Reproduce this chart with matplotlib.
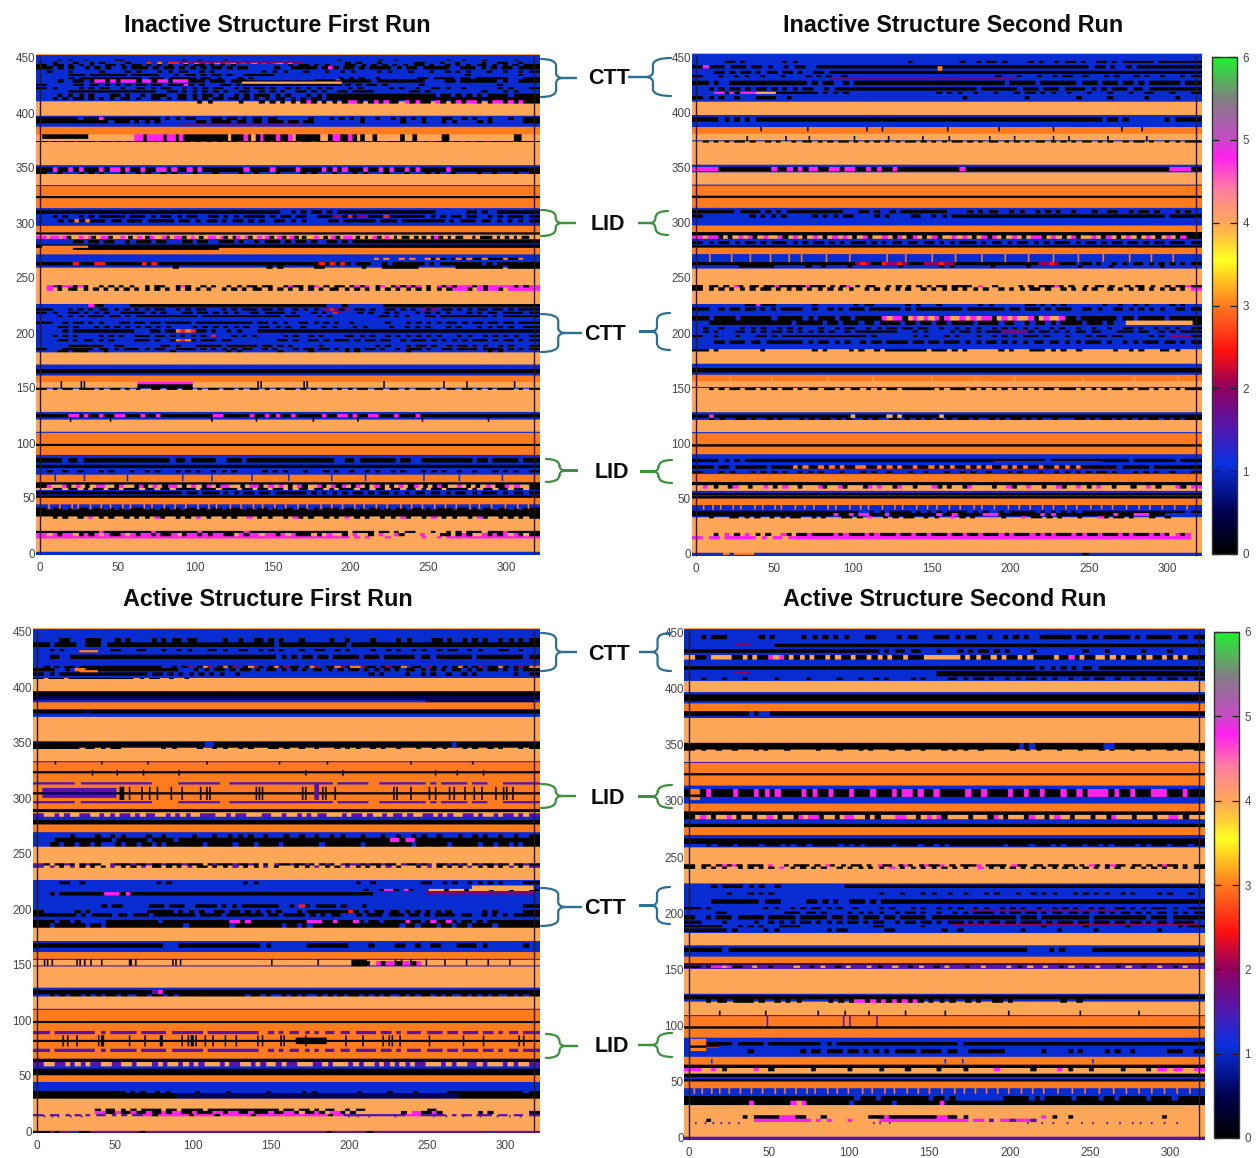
import numpy as np
import matplotlib
matplotlib.use("Agg")
import matplotlib.pyplot as plt
from matplotlib.colors import LinearSegmentedColormap, Normalize
from matplotlib.path import Path
from matplotlib.patches import PathPatch

plt.rcParams['font.family'] = ['Liberation Sans', 'DejaVu Sans']

W, H = 1258, 1158
X_TICKS = [0, 50, 100, 150, 200, 250, 300]
Y_TICKS = [0, 50, 100, 150, 200, 250, 300, 350, 400, 450]
CBAR_TICKS = [0, 1, 2, 3, 4, 5, 6]
TITLES = ["Inactive Structure First Run", "Inactive Structure Second Run",
          "Active Structure First Run", "Active Structure Second Run"]
VALUE_OF = {'K': 0.0, 'N': 0.55, 'B': 1.05, 'P': 1.55, 'V': 2.0, 'R': 2.5, 'O': 3.0,
            'Y': 3.55, 'L': 4.0, 'M': 4.8, 'G': 6.0}
CMAP_VALUES = [0, .5, 1.1, 1.5, 2, 2.45, 3, 3.55, 3.85, 4, 4.4, 4.8, 5, 5.5, 6]
CMAP_COLORS = ['#000000', '#000050', '#0a30e0', '#5018b0', '#900060', '#ff1010', '#ff7a20',
               '#ffff20', '#ffc040', '#ffa858', '#ff7fa0', '#ff20f0', '#c848c8', '#808080', '#20f030']

# ---- panel 1: rows (from, to, value)
P1_BANDS = [(-2,1,'B'),(1,2,'L'),(2,33,'L'),(33,39,'K'),(39,44,'B'),(44,50,'O'),(50,52,'K'),(52,57,'B'),
 (57,62,'L'),(62,64,'K'),(64,71,'O'),(71,89,'B'),(89,97,'O'),(97,99,'K'),(99,109,'O'),(109,110,'B'),
 (110,121,'L'),(121,123,'B'),(123,126,'K'),(126,128,'B'),(128,149,'L'),(149,150,'B'),(150,155,'L'),
 (155,161,'O'),(161,163,'B'),(163,167,'K'),(167,171,'B'),(171,182,'L'),(182,226,'B'),(226,228,'L'),
 (228,259,'L'),(259,271,'B'),(271,277,'O'),(277,280,'K'),(280,285,'B'),(285,289,'L'),(289,291,'K'),
 (291,297,'O'),(297,313,'B'),(313,322,'O'),(322,324,'K'),(324,333,'O'),(333,334,'B'),(334,344,'L'),
 (344,346,'B'),(346,350,'K'),(350,352,'B'),(352,373,'L'),(373,374,'B'),(374,380,'L'),(380,387,'O'),
 (387,397,'B'),(397,410,'L'),(410,452,'B')]
P1_STREAKS = [(424,429,130,195,'K'),(426,428,130,195,'L'),(445,446,90,170,'V'),(376,380,0,30,'K'),
 (388,389,90,170,'V'),(153,155,62,98,'M'),(150,153,62,98,'K'),(277,279,0,30,'O')]
P1_THIN = [
 (40,45,'O',[4,11,19,23,31,38,44,52,57,66,71,79,86,93,101,108,113,122,129,137,143,151,158,166,172,181,188,195,203,209,217,224,233,240,247,255,262,269,278,284,292,301,309,316]),
 (65,72,'B',[8,27,55,91,110,136,160,188,210,248,271,299]),
 (150,156,'K',[12,25,27,140,142,170,172,222,261,276,307]),
 (119,123,'K',[18,44,110,139,176,205,247,290]),
]
P1_TEX = [
 (447,448,"...K.K..K.....KK...........K..K....K.....................K.......K..K.........K..K...K.....K..."),
 (444,446,"..K...K..K.K....K...R.O.RR.O.O.R.O.RO.R.O.R.RO.O..........K.K...K......KK...K..K....K..KK..K.."),
 (442,444,"K.KK.K.K.K..KK.K.KK.K.K.K..K.KK.K.K.K..........K.KK.K.K...KK.K.K.K.K.K.KK.K..K.K.K.KK.K.K.K.KK"),
 (439,442,"KK.K.K..K.K.K..K.KKK.K.KK.K.K.K.KK.K.KK.....K..KKKKK.KMK.KK.K.KKKK.K.KK.KKKKK..KKK.K.K.KK.KKK"),
 (436,438,".K...K.....K....K.K...K.K.KK..K.K.........K.K.K...K...K..K.K....K.K...K...K..K.K.K...K..K..K.K"),
 (433,435,".....KKK.KKKKKKK.KKKKK...K.KK.K.KK.K..KKKKKK....................................K.........K.."),
 (430,432,".....K.KKKKKKKKKKKK.KKK.KKKKK.KK.K...K.K................K.K.K..K.......KK.KKKK.KK.KKKKKK...KK"),
 (427,430,"...K..KK.KMMKMKMMMKMMKMMKMMMKKK.KKK.KKK.............KKKKMKKKKKK.KKKKKKKKK....KK.KKKKKKK.K..KKK"),
 (424,426,"K.....KK.KK.K.K.K.KK.KK.KKKMK.K...KK.K.K.......KK.KK.K.KK.K.K.KK.K......K..............K......"),
 (421,423,"K.K....K.K.KK..K..KK.K.KK..K.K.K.KK..K.K.KK.K..K.K.K.K.K...K.K.....K.K..K..KK.K..K......K.K...K"),
 (418,420,".....KKKKKKKKKKKKKKKKK..KK.K.K.K.K.K..KK..K.K.K..KK.K.K..KK.KKKK.......KK.K..........K...K.K..."),
 (414,417,"...K.K.K.K...KK.K..K.KKK..KK.K.KK.K..K.K.KKK.K.K...K.K.KKKKKKKKKKKKKKKKKKKKK.KK.K.K.K.KKKK.KKKK"),
 (411,414,"..K.K.KK.K.K.K.KK.K..KK.K.KK.K.K.KK.KK.K.K.K.KK.K.K.KK.KKKKKKKKKKKKKKKKKKKKKKKKKKKKKKKKKKKKKKKK"),
 (408,411,"..............................K.K.....K...K.K.K.K.KMK.K.K.KMMK.KMKMKK.MKMKK.MK.KMKMMK.KMMKMKMKK"),
 (393,396,"KKKKKKK.KKKMKKKKKKKKKKK.K.K.KK...KK.KK.K.KK.KK......K...K.K.K.K..K..K.K.K.K...KK..K.K..K...K..KK"),
 (390,393,"KKKKKKKKKKKKK.KKK.K.K.K.......KK.KKKK.KK.KK.KKK.KK.KK.........K.......K...K...K.K....K.K......KK"),
 (374,380,".......................MMKMMMMKMMKMKKKKKKKKKKKLKKKMKLKMKKKMKKMLKKKKKKLLKMMKKMKLKLLKLLLLLLKLLKLLLLLLKKLLLLLLLLLLLLLLLLKKLLL"),
 (373,374,"K.K.KK.KKK.KK.K.K.KK.K.K.KKK.K.K.K.KK.K.K.K.K.KK.KK.KK.K.KKK.K.K.KKK.KK.K.KKK.K.K.KK.KKKK.KKK"),
 (346,350,"KKMKKMKMKKKMKMMKMKKMKKMMKMKKMKMKKKKKKKKMKKKKMKKKKMKKKKMKMKMKKKMKKMKMKKMKMKKKKKMKKKKKKKKKKKKKKKK"),
 (344,346,"K..K...K.K.K...K..K.K..K.K...K...K....K..K...K....K.K...K...K.K...K...K...K.K..K....K..K...K..K"),
 (308,311,"KKKKKKKKKKKKKKKKKKKKKKKKKKKKKKKKKKKKKKKKKKKKKK..K.K.KK.K.KKKKKKKKKKKKKKKKKKK......KK.K..KKKKKKK"),
 (304,307,"..K.K..K.K.KKKKK.KKK.K.KK.K.KK..KK.K.K.KKKK.K.KK.KK..KKKVVKRKVVKKKRKKKKKKK.K.K.KK.KK..K.K.KKK.K"),
 (300,303,"...K.KOKOKKK.KK.KKK.KKKKK.KK.K.KK.K.KK.K.K..KK.K.K....KK.KKKKKK.KKK.KKKKKKKK.K.KKK.KK.K.K.K.K"),
 (285,288,"MLMMLMKLLMLMKLMMKLLMLKLMLKMLLMKLMMKLMLKLMMLMKLKMLMKLMLMKLMKLMKLKLLMLKLMKLMMLKLKLMKLMLKLKKLKLKLKMKLKLKKLLKLKKKLKLKLKLKKL"),
 (281,284,"......KK.KK.KK..K.KKK.KK...KK.KK..KKK.K..K.KKK.K.KK.K..KK.K.KKKKKKKKKKKKKKKKKKKKKKKKKKKKKKKKKKK"),
 (275,277,"......KKKKKKKKKKKKKKKKKKKKKKKKKKKKK.............................................................."),
 (266,268,"................................................................O.O..O.O..OKOK.KOKOKKOKKKOKKO.."),
 (261,264,"KKKKKKRKKKRRKKKKKKKRKRKKKKKKKKKKKKKKKKKKKKKKKKKKKKKKKRKRKRK.KKK..K.KKKKKK.K.KKKKKKKK.K.KKKKKKK"),
 (258,261,".........................K.................K.K......KK.......K...KKKKKKK.......KKKKKKKKK.KKKKK"),
 (241,243,".MPKMMKMK.LKLKLKLKLLKLKKLLKMKLLKLKLLKLKLKKLKKLLKMKKLKMLKLKKLKMKMLKMLKMKMKMLKLMKMKMMMKMKMMMMMKMKM"),
 (238,241,".M.K.KK.K.K.K.K.K.K.K.K.K.K.K.K.K..K.K.K.KK.K.K.K.K.K.K.KK.K.K.K.K.K.K.K.K.K.K.KMMMK.MKMMK.MMMMM"),
 (223,226,".........MKK.....KKKKKKKKKKKKKKKKKKKKKKKKKKKKKKKKKKKKKK...K.......KKKKKKKKKKKKKKKKKKKKKKKKKKKKK"),
 (220,222,"KK...K.K.K.KK.K.K.K.K.KK..K.K.KK...K.K.KKK.KK.K..K.K.K.VRVKV.KK.K..KK.K.K.VKV.KK.K.K.KK.KK.K.KKK"),
 (217,219,"K.K..KK.K.K.K..KKKKK.K.K...KK.KK.K.K.K..KK.KKKK.K...K.K.RV...K.K..K.K...K.K.K.K...K.K.KK.KKKK.K"),
 (214,216,"...K.K.K.KKK.KK.K.KKKKKKKKKKKK.KKKKKKKKKKKKKKK.KKK...K.K.........KK.K.K...KK.KKKKKKKKK.K.KKKKKK"),
 (208,210,"KK..K.KK.K.K...KK.KK.KK.KKKKK.KKKKKKKKKKK.KK.K.K..KK.K.K.K..K......K...K.K.K.K.KK.K.KK.KK.KK.KKK"),
 (204,206,"...KK.K...K.K.K.K.K.K.K.K....K.K.K.K.K.K..KK.K.K..K...K.K...K.K....K..K.K.K...K.K...K.K.K.K..KK"),
 (200,203,"....K.KKKKKKKKKKKK...KK.KKORORKK.K..K.K...KKKKKKKKKKKKKKKKKKKKKKKKKKKKKKKKKKKKKKKKKKKKKKKKKKKKKK"),
 (196,198,"..K.K.K....K.K.K..KKK.KK.K.K.K.K.R...K.K.K.....K.K..K.K....KK.K.K..K.K.K.K.K.K...K.K..K.K.K.K..K"),
 (192,194,"...KK.K.KK.K.K....KKK.K..KOROK.KKK.KK.........KK.K..KK.K.KKK.K.KK.KK..K.KKK.K.K.K.K.KKK.K.KK.K.K"),
 (187,189,".....KKKKKKK..KK.......KK.K...KKKKK.KKKKKK.KK.K.K.....K..........K.K...K.KK.K..K.KK.K.K..K.K...K"),
 (184,186,"K...KKKKKK.KK.K.KKK.K.KK..KKKK.K.K.K.K.KK..K.K...K.KK.KK.K.K.K.KK.K..K.KKK.K..KK.KKKK.KKKK.K.K.K"),
 (182,184,"...KK.KKK...K............K..........K.K.......K.....K......K.K.........K...............K.K......"),
 (148,150,"K.K.KK.KKK.K.KK.K.K..KK.KK.KK.K.KK.KK.K.KK.K.K.KK.K.K.KK.K.K.KK.KK.KK.K.KKK.K.KK.KK.K.K.KKK.K.K"),
 (123,126,"KKKKKMMKMKKMKKMMKKKMKKMKKKKKKKKKKMMKKKKKMKKMKMKKMKKKKKMKKMMKMKKMMKKKMKKKMKKKKKKKKKKKKKKKKKKKKKK"),
 (82,86,"KKKK.KK.KKKKKKKKKKKKKKKKK.KK.KKKKK..KKK.KKKKKKKKKKKKKKKKK..KK.KKKKKKK.KK..KKKKKKKKKK.KK.KKKKK.KK"),
 (77,80,"KKKKKKKKKKKKKKKKKKKKKKKKKKKKKKKKKKKKKKKKKKKKKKKKKKKKKKKKKKKKKKKKKKKKKKKKKKKKKKKKKKKKKKKKKKKKKKKKK"),
 (73,75,".K..K..K...K.K...K..K.K...K.K.K..K.K.K.....K.K.K...K...K.K..K..K.K..K.K...K.K.K..K..K...K.K.K..K"),
 (59,62,"KMLLMKLMLKLMMLLKMLLKMKLMLKMMLKLMLKMLKMMLLKLMMKLMLMLKLMKLLMKLMKMLKMLKLMKLKLMLKMLKLKMKLLMLKLKLMLKKMLMLLK"),
 (57,59,"..KK.KK.K.KK.KK.KKK.KK.KK.KKKK.KKK.KKK.KK.KK.KK.K.KK.KK.K.KKK.KK.KK.KK.KK.K.KK.KKKK.K.KK.KK.KK.K"),
 (53,56,"KKKKKKKKKKKKKKKKKKKKKKKKKKK.KK.KKK.K.K.KK.KK.KKKKKK.K.K.K.K.KK.K.KK.K.K.KK.KK.K.KK.K.KKK.K.KK.K"),
 (39,41,"K.KK.K.KK.KK.K.K.KKK.K.KK.K.KK.K.KK.KKK.K.KK.K.KK.KK.K.KKK.KK.K.KK.K.KK.KK.K.KKK.KK.K.KK.KK.K.KK"),
 (31,33,"..K.K..K.M.K.K..K.K.K.MK..K.K.M.K..K.K..M.K.K..K.MK.K..K.K.M.K.K..K.K.MK..K.M.K.K..K.MK..K.K.K.K"),
 (18,20,"KKKKKKKKKKKMKKKKKKKKKMKKKKKKKKMKKKKKKKKMKKKKKKKKKKKKKKKKKKK.KKKK.KK.K.KKL..K..KLK.KKK.KKKMKKKKK"),
 (15,18,"MLMKMMLKMKMLMKKMLMKMMKMKKMLKMMKMKMMKKLMKMMLMMKMLMKKKLKLMLLK.MLLKLMLLMKLLLMLLLKKLKMKLLMKMKMLMKLK"),
 (13,15,"MMMMMMMMMMMMMMMMMMMMMMMMMMMMMMMMMMMMMMMMMMMMMMMMMMMMMMMMMMMM.M.M...M..L...M..M.MMMMMMMMMMMMMMMMM"),
]
# ---- panel 2
P2_BANDS = [(-2,1,'B'),(1,2,'L'),(2,33,'L'),(33,39,'B'),(39,44,'B'),(44,50,'O'),(50,52,'K'),(52,53,'B'),
 (53,55,'K'),(55,57,'B'),(57,62,'L'),(62,65,'K'),(65,72,'O'),(72,90,'B'),(90,97,'O'),(97,99,'K'),
 (99,109,'O'),(109,110,'B'),(110,121,'L'),(121,123,'B'),(123,126,'K'),(126,128,'B'),(128,150,'L'),
 (150,151,'B'),(151,156,'L'),(156,162,'O'),(162,164,'B'),(164,168,'K'),(168,172,'B'),(172,185,'L'),
 (185,226,'B'),(226,258,'L'),(258,271,'B'),(271,277,'O'),(277,279,'K'),(279,285,'B'),(285,288,'L'),
 (288,291,'K'),(291,297,'O'),(297,313,'B'),(313,322,'O'),(322,324,'K'),(324,333,'O'),(333,334,'B'),
 (334,345,'L'),(345,347,'B'),(347,350,'K'),(350,352,'B'),(352,373,'L'),(373,374,'B'),(374,380,'L'),
 (380,386,'O'),(386,397,'B'),(397,409,'L'),(409,452,'B')]
P2_STREAKS = [(429,430,85,205,'V'),(414,415,100,220,'V'),(207,211,275,318,'L'),(437,441,154,157,'O'),
 (76,77,75,270,'V'),(83,84,190,260,'V')]
P2_THIN = [
 (40,45,'O',[3,9,14,22,27,36,41,49,53,62,68,74,83,88,97,104,109,118,126,131,140,147,153,161,168,177,182,190,199,206,213,221,228,236,243,252,259,266,275,283,290,298,306,314]),
 (264,272,'O',[7,21,33,46,58,66,82,97,121,133,150,165,182,197,212,228,244,260,277,291,305]),
 (382,386,'K',[40,70,108,118,160,193,228,272,285]),
 (373,378,'K',[31,56,71,100,122,144,161,187,203,228,238,263,288]),
 (155,160,'L',[20,47,83,112,150,178,203,247,280,308]),
]
P2_TEX = [
 (444,446,".....KK.K.......K.K.....................K.........K..K.KK.K....K.K..K.KK.K..KK.K.KKKKKK.KKKKKKK"),
 (439,442,"KMKKK.KKK.KK.K..K.KK..KKKKKKKKKKKKKKKKKKKKKKKKKKKKKKKKKKKKKKKKKKKKKKKKKKK.KK.K..K.KKKKKKKKKKK"),
 (434,437,"...KK.K.KK.K.KK.KK.K..KK.KKKKKKKKKKKKKKKKKKKKKKKKKKKKKKKKKKKKKKKKKKKKKKKKKKKKKKKKKKKKKKKKKKKKKK"),
 (431,433,"K...K..K.K..K...K....K.K.K..K.............................K...K...K..K.KK..K...K.K...K.K..K...K.K"),
 (424,428,"KK.K..KKKKKKKKKKKKKKK.K.KK..K.KKKKKKKKKKKKKKKKKKKKKKKKKKKKK.KKKKK.KKKKKKK.KKK.KKK.KK.K.KKKKKK.KK"),
 (419,422,"..K.K.KK.K.KK.K.K.K.KK..K.KKKKKKKKKKKKKKKKKKKKKKKKKKK.KKKKKKK.KKK.KKK.KKKK.K.K.KKK.KK.KKKKKKKKK"),
 (416,418,"...MMKMKMMMLLLLKKKKKKKK.K.K.K.................K.K.K..K...K...K.KK.K.K..K...K...K...K..KK...K...K"),
 (411,414,"K.K.K..K...KKKK..K.................................K...........K.........K.....K......K.....K..."),
 (391,395,"KKKK.K.K.K.KKKKKKKKKKKKKKKKKKKKKKKKKKKKKKKKKKKKKKKKKKKKKKKKKKKKKKKKKKKKKKKKKKK.KK.K.......K.KKKK"),
 (372,374,".K.K.K.KK.K..K.K..K.KK.K.K.KK.K.K.K.K.K.KK.K.K.K.KK.K.K.KK.K.K.K.KK.K.K.K.KK.K.K..K.KK.K..K.K.KK"),
 (346,350,"MMMMKKKKKKKKKKMKKMKMKMMKKMMKMMKKMKMKKMKKKKKKKKKKKKMKKKKKKKKKKKKKKKKKKKKKKKKKKKKKKKKKKKKKKKMMMMK"),
 (308,311,"KKKKKKK.KKKK.K.K.KKKKKKKKKKK...KK.K..K.KKKKKKKKK....K.K.KK..K.K..K.K.K..K...K..KK..K.KK.K...K.K."),
 (304,307,"K.........K.K.K.K.....K.K.K.KK....K.K....KK..K.K.KKKKKKKKKKKKKKKKKKKKKKKKKKKKKKKKKKKKKKKKK.KKKKK"),
 (285,288,"MLMMKLKLMLMKLMLLMKLMLKLMLKLMLMLKLMKLLMLKMLKMLKLMKLLMLMLKLMKMLKLMLKLMMKLMLKLMKLLMLKMLKLMLKLMLKLMLKMKK"),
 (280,283,"K.K.KK.K.KK.K.KKK.K.K.KK.K.K.KKK.K.K.KK.KK.KK.K.K.KKK.K.KK.K.KK.K.K.KKK.K.KK.K.KK.KK.K.KK.KKK.K"),
 (261,264,"KKKKKKKKKKKKKKKKKKKKKKKKKKKKKKVRVKKRVVRVKKKVVVRVVKKKKKKKKKKKKKKKKVVRVKKK.KK.K..K.K.KK.K.K.K.K.K"),
 (259,261,"........KKKKKKK......K..K....K.........K.......K.K.......K......K.........K.....K.........K......"),
 (241,243,"KLKKLKLMKLKKLKKMKKKKKMKKKLKLKMLKLKKLLKLKLKLKLKLKKLKKKKLMLLKLLLLKLKLKKKMKLKLLKLKKLKLLKLKKLKLLKLKKMK"),
 (238,241,"K.K.K.K.K.K.KK.K.K.K.K.K.K.K.K..K.K.K.K.K..K.K.K.K.K.K.K..K.K.K.KK.K..K.K.K.K..K.K.K.K.K.K.K.K.M"),
 (224,226,".........KKMKKK.......K.......K.KK......K.K...K.......K.K......KK.K.K.K.......K..K..K.K....K.K.."),
 (220,223,"KK..K.KK.KK.K.K.KKKK..K..K.K.KKK.KKKKKK.K.KKKKKKKKK.KKKKKKK.KK.KKK.K.KKK..KK.K..KK.K.K.K.K..KK.K"),
 (211,215,"KK.KKKK.KKKKKK.KKKKK.K.KKK.KK.KKKKKMLMMKLMLMLMKMLLMLMLMMKLMLMLLMKLMLLMKK.KKKKKKK.KK.KKKKK.KKKKK"),
 (207,211,"..KKKKKKKKKKKKKKKK.KKKKK.KK.KKK.KK.KKKK.KK.KK.KK.KKKK.KKKK.KK..K.KK.K.KKKK.KKK.K..............KK"),
 (203,205,".K..K...K.K.K..K.K.K...K..K.KK..K.K.KK.KK.KK..K..K.K.K..K.K.K.K.K..K.K..K..K..K..KK.K..K.K.K..K"),
 (200,202,".K.K...KK.K.K.KK.K.K.K.K.K..K.KKKKKKKK...K.K....K.KK.K.KKKVVVVVK.KK.K.K.KK.KK...KKK.KK..K.K.KKK"),
 (196,198,"K..K...K...KK.K.KKKKKKKKKKKKKKKK.K.......K.K...K.K...K..K.K.K.KKK.K...K...K.KK.KK.....K.K.VVVVK"),
 (190,193,"...KK.KKK.KK.KKKKKKK.K.KK.K.K..K.KK.KKKK.KK.KK.KKK.K.K.KK.K.K.K.KK.KK.K.K.KKK.K..K.K.KKK.KK.K.K"),
 (183,185,"KK.K........K.........K.K....K.K..K.KKKKKKKK.KKK.K.K......K.K...KKK.K.K..K......K..K.K...KK.K..."),
 (148,150,"..K.K.KK.KK.K.K.KK.K.KK.KK.K.KK.K.K.KK.KKKKKK.K.KKK.K.K.K.K.K.K.K.KK.KKK.K.K.K.KK.K.KK.K.K.K.KK"),
 (123,126,"KKMKKKKKKKKKKKKKKKKKKKKKKKKKKLKKKKKKLKLKKKKKKKLKKKKKKKKKKKKKKKKKKKKKKKKKKKKKKKKKKKKKKKKKKKKKKKK"),
 (121,123,"..K.K..KK.K..K.K...K.K.KK.K.K..K.K..KK.K.K.K.K.K.KK.K..K.K.KK.K.K..K...KK.K.KK.K.K.K.KK.K.K.KK"),
 (83,86,"KKKK.K.K.KKKKKKKKKKKKKKKKKKKKKKKKKKKKKKKKKKKKKKKKKKKKKKKKKKKKKKKKKK.KKKKKKKKKKKKKKK.KKKKKKKK.KKK"),
 (77,80,"KKK.KK.KKKKKK.KKKKOKOKKOKOKOKKOOKKOKOKOKKOKKOKOKOKKOKOKOKKOKOKOKKOKKOKOKOKKKKKKK.KKKKK.KKKKKKKK"),
 (73,75,"K...K.K...K.K.K.K..K.K.K...K...K.K..K...K..K...K..K.K..K...K.K...K..K.K.K.K.KK.K...K.K.K..K...K"),
 (59,62,"LMLKLLKMLLKLLMLKLMLLKLLLMKLLMKLLLKMLMLLKMLLKLLLMKLKLLKMLLLLKLLMKLLMLLKLLMKLLMLKLMLLKLLLKLLMLKLLLMKLM"),
 (37,39,"KKKKKKKKKKKKKKKKKKKKKKKKKKKKKKK..K.K.KKKK.K.K.K.KKKK.K.K..K.KKKKK.K.K.K.K.KKKKKKKKKKKKKKKKKKKK.K"),
 (34,37,"KKKKKKKKKKKKKKKKKKKKKKKKKKMKKMKMMKKKMKKKKKKKKKMKKMKKKKKMMMKKKKKKKKMKMKKKKKKKKKKKMKKKMMMKKK......"),
 (32,34,"..K...KK.K.K..K.K.KK..K.K...KK.K.M..K.K.KK..K.K..M.K.K.....K...M.KK.K.K...K...MK.KK.K...K..K....."),
 (16,19,"...K.M.K.M.K.K..MK.KKMKKKKMKMKKKMKMKKKMKKMKKMKKKMKKMKKMKKKMKMKKKMKMKMKKKMKMKKMKKKMKMKKKMKMK.MKM."),
 (13,16,"M.MM.MMMMMM.M.MM.MMMMMMMMMMMMMMMMMMMMMMMMMMMMMMMMMMMMMMMMMMMMMMMMMMMMMMMMMMMMMMMMMMMMMMMMMMMM."),
 (-1,1,".B...O.OOOO.......B........................................................K....................."),
]
# ---- panel 3
P3_BANDS = [(-2,0,'P'),(0,2,'L'),(2,29,'L'),(29,34,'K'),(34,44,'B'),(44,50,'O'),(50,56,'K'),(56,58,'B'),
 (58,62,'L'),(62,65,'K'),(65,80,'O'),(80,82,'K'),(82,97,'O'),(97,99,'K'),(99,109,'O'),(109,110,'P'),
 (110,121,'L'),(121,123,'B'),(123,127,'K'),(127,129,'B'),(129,148,'L'),(148,149,'P'),(149,154,'L'),
 (154,155,'P'),(155,161,'O'),(161,171,'B'),(171,183,'L'),(183,226,'B'),(226,256,'L'),(256,269,'B'),
 (269,276,'O'),(276,280,'K'),(280,283,'B'),(283,287,'L'),(287,290,'K'),(290,303,'O'),(303,305,'K'),
 (305,322,'O'),(322,324,'K'),(324,332,'O'),(332,333,'P'),(333,345,'L'),(345,351,'B'),(351,373,'L'),
 (373,376,'B'),(376,379,'K'),(379,380,'B'),(380,386,'O'),(386,388,'B'),(388,392,'N'),(392,396,'K'),
 (396,408,'L'),(408,452,'B')]
P3_STREAKS = [(300,309,2,50,'P'),(303,305,2,50,'N'),(78,84,166,186,'K'),(148,154,202,212,'K'),(386,392,250,320,'N'),
 (431,433,26,38,'O'),(413,415,26,38,'O'),(213,215,250,320,'V'),(217,221,280,320,'L')]
P3_THIN = [
 (76,86,'K',[15,18,24,38,40,41,58,68,78,79,92,96,98,99,101,107,112,120,127,141,144,156,158,172,198,209,222,226,228,233,252,274,287,310,313]),
 (298,310,'K',[52,53,54,58,66,71,76,85,92,104,108,110,140,142,144,170,172,180,183,185,191,229,231,240,252,256,265,268,275,281,286,295,300,302,306]),
 (298,312,'P',[178,179,180]),
 (149,155,'K',[3,5,8,24,26,29,33,40,58,59,62,86,88,91,150,180,230,234,240,250,262,276,290,304]),
 (12,14,'P',[3,8,12,20,27,200,206,213,230,255,263,274,285,296,304,311]),
 (44,47,'O',[8,30,60,104,150,211,248,277]),
 (320,325,'K',[34,50,67,90,172,196,256,270,287]),
 (330,333,'K',[10,40,70,108,155,186,240,280]),
]
P3_TEX = [
 (440,444,"....KK...KKK...K.K....K.K.KK.KK.....K..K..KK.K.K...K.....K..K....K....K.K....KK.K..K.K.K..K.K.K.K"),
 (436,440,"KK.KKKK..KKK.KKKKKKKKKKKKKKKKKKKKKKKKKKKKKKKK.KKKKKKKKKKKKK.KKKKKKKKKKKKKKKKKKKKKKKKKKKKKKKKKKK"),
 (432,434,"..K.K.........KK...KK...K..K.K...KK.K..KK..K.K.K...K..KK..K.K....K..K.K..K.K..K.KK..K.K...KK..K.."),
 (425,429,"..KK..KKKKKKKKKKKKKKKKKKKKKKKKKKKKKKKKKKKKKKKK.K.K.KK.KK.KKKKK.KKK.KKKKKK.KK.KKKKKKK.KKKKKKKKK.K"),
 (417,419,".K.K.KK.KKKKKKKKKKKKKKKK..K.KV.KOV.KOKV.KOVK.KOKVKK.KOV.KKOVKOOVKK.KVKKO.KK.VK.K.KOK.KV.KKOK.KVKO"),
 (414,417,"KKK..K.OOKKKKKKKKKKKKKKKKKK...K.K.KK.K.KK.K.KK.K.K.K.KK.K.K.KK.K.K.K.K.KK.K.K.K.KK.K.K.KK.K.K.KK"),
 (410,413,"K.K.KKKKKKKKKKKKKKKKK.KK.K.K.K.K.K.K..K.........................K.K....K..K.K..K..K.K.......K..K"),
 (407,408,"K.KKK.KKKKKKKKKKKKK.K.KK..K..K....................................................................."),
 (376,379,"..KKKKKKKNKKKKKKKKKKKKKKKKKKKKKKKKKKKKKKKKKKKKKKKKKKKKKKKKKKKKKKKKKKKKKKKKKKKKKKKKKKKKKKKKKKKKKKK"),
 (346,350,"KKKKKKKKKKKKKKKKKKKKKKKKKKKKKKKK..KKKKKKKKKKKKKKKKKKKKKKKKKKKKKKKKKKKKKKKKKKKKKK.KKKKKKKKKKKKKKK"),
 (344,346,"KKKKKKKK.KK.K.KK........K.K....K..K.K..K.K...KK.K..K..K...K.K.K..K.K..K...K..K.K...K.K..K.K...K.K"),
 (312,314,"PPPPPPP.PPPPPPPPPPPPPP.....PPPPPPPP..PPPPPPPPPPPPPPPPPPPP.PPPPPP..PPPPPPPPP.P.PPPPP.PPP...PPPPPP"),
 (295,297,"PPPPPPP.PPPPPPPPPPPPPP.....PPPPPPPP..PPPPPPPPPPPPPPPPPPPP.PPPPPP..PPPPPPPPP.P.PPPPP.PPP...PPPPPP"),
 (283,286,"PLLPLPLLPPLLPLPLPPLPLPPLLPLPLPLLPPPLLPLPPLLLPPLLPLLPLPLPPLLLPLPPLPLLPLPPLPLLPPLPLPLLPPLPLLPLPPLPLP"),
 (264,267,"......K....K..K.K....K..K.....K...K..K.K.K..K...K..K..K..K.K...K...K..K..K.K..K...K..K.K..K..K..K"),
 (260,264,"...KKKKKKKKKKK.KKKKKK.KKKK.KKKKKKKKKKKKKKKKKKKKKKKKKKKKKKKKKKKKKKKKKMMKMMKKKKKKKKKKKKKKKKKKKKKKK"),
 (256,260,"..KK.KK.KK.K...K.KK.KK.K.KKKKKKK.KKKKK.KKK.KKKK.KKKKKKK.KKKKKKK.KKKKKKKKK.KKKKKK.KKKKK.KK.KK.K.KK"),
 (239,241,"PKLKKPKLKPKKLLPKKKPKKPKKPKKKPKKKLKPKKKPKKPKLKLPKKPKKPKLKPKLPKPPKPKKPKKLPKKPKPLKKPKPKLKPKKPKKLKKPK"),
 (237,239,"P.P.K.P.K.K.K.P.K.K.P.KK.K.K.P.KK.K.K.P.K.K.P.K.L.K.K.P.K.K.P.K.K.K.P.K.L.K.P.K.K.K.P.K.K.K.P.K.P"),
 (222,225,"....KK..K..............K.K..............K.K...................K..K.........KK..K.K..K.K.K.K....KK"),
 (216,218,".................................................................K..KMMK.MK...LLLKLLLKLLLLKLLLKLLLK"),
 (212,215,"..K.KKKKKKKKKMMMKMKKKKKKKKKKKKKKKKKKKKKKKKKKKKKKKKKKKKKKKKKKKKKKKK................................"),
 (201,204,"............K.KK.....KKK.KKK..KKKK.K.K.KKKKKKK..K.RK.KKKK.K...K..............................KK"),
 (196,199,"K......K.K...........KKKKK.K.K.K..KK.KK.K.K.K.K...K.KKKKKKKKRK.K.KK.KK.K.K.K.K.K......K.K.....KK"),
 (193,196,"KKKKKKK.K.KKKK.KK.KKK.KKKKKKKK.KKKK.KKKKKKK.KK.KKKK.K.K.KK...K.KKK.KKK.KK.K.KKKK.KK..K.K.K.KKKK"),
 (187,190,"KKK.KK.K.....KKKKKKKKKK.KKKKKKKKKKKKKMMKMKKKKKKKKKKKMMMKKMKKKMK.KK.KKKKMKK.KMKKMK.KK.K.KKKKKKKKK"),
 (183,187,"KK.KKKKKK.KK.KKKKKKKKKKKKKKK.KKKKKKKK.KKKKKKKKK.KK.K.KKKKKKKKKKKKKKKKK.KK.KKK.KK.KK.KKKK.KKKKKKK"),
 (165,169,"KKKKKKKKKKKKKKKKKKKKKKKK...KKKKKKKKKKKKKKKK.K.......KKKKKKKK....K....KK..K..KK...KKKK.K.......K."),
 (149,153,"................................................................K.MKMMKMMKM......................"),
 (123,127,"KKKKKKKKKKKKKKKKKKKKKKPMKKKKKKKKKKKKKKKKKKKKKKKKKKKKKKKKKKKKKKKKKKKKKKKKKKKKKKKKKKKKKKKKKKKKKKKK"),
 (121,123,"..K.K.KK.K.K.KK.K..KK.KK.K.KKKKKKKKKKKKK.KK.K..K.K.K..K.K.K.KK.K.K.K..K.K.KK.K.K..K.K.K.K..K.K.K"),
 (87,90,"PP.PPPPPPPP.P.PPPPP.PPPPP.PPPPPP.PPPPPPPPPP..P.P.PP.P.P.PP.PP.PPPP.PP.P.PPP.PPP.PP.PPP.PP.P.PP.PP"),
 (71,74,"PP.PPPPPPPP.P.PPPPP.PPPPP.PPPPPP.PPPPPPPPPP..P.P.PP.P.P.PP.PP.PPPP.PP.P.PPP.PPP.PP.PPP.PP.P.PP.PP"),
 (58,62,"PLLPPLPLPLPPLLPPLLPLLLPLPLLPLPLPLLLPLPPLLPLPLLPLPPLLLPPLPLLLPLPLLPLPLPLPLPPLLLPLPLLPPLPLLLPLPLLP"),
 (29,34,"KKKKKKKKKKKKKKKKKKKKKKKKKKKNNNNNNNNNNNNNNNNNNNNNNNNNNNNNNNNNNNNNNNNNNNNNNNNNNNNNNNKKKKKKKKKKKKKKK"),
 (34,36,"KKKKKKKKKKKKKKKKK.K.K..K.K.....K.....K.......K......K.K........K.....K....K......KKKKKKKKKKKKKKK.K"),
 (18,20,"...........K.KK.K.K.KKKK.KK.KKKK.KKKKKKKKKKKKKK.KK.KK.K.KK..K.KK............KK..................."),
 (15,18,"...........MMKKMKKMKKMKKMKMMKKMKKKMMKMMKKMKKKMKKMMK.KKMK.MMK.K.........K.MMKKMK.......K.K.......K"),
 (13,15,"P.PP.P.P.P.PP.P.P.PPMMKMMMMMMKMMMMKMMMMMMKMMMMMMMMMMMMMMKMMPPPPPPPPPPPPMMMPPPPP.P.PP.PPP.PP.PP.P"),
 (-2,0,"KK.K..BBKK..........K....................................K.......K.......................B........"),
]
# ---- panel 4
P4_BANDS = [(-2,1,'P'),(1,2,'L'),(2,29,'L'),(29,37,'B'),(37,44,'B'),(44,50,'O'),(50,52,'K'),(52,54,'B'),
 (54,57,'K'),(57,62,'L'),(62,65,'K'),(65,72,'O'),(72,89,'B'),(89,97,'O'),(97,99,'K'),(99,108,'O'),
 (108,109,'P'),(109,121,'L'),(121,123,'B'),(123,127,'K'),(127,128,'B'),(128,150,'L'),(150,154,'P'),
 (154,155,'K'),(155,161,'O'),(161,171,'B'),(171,182,'L'),(182,226,'B'),(226,258,'L'),(258,261,'B'),
 (261,266,'K'),(266,269,'B'),(269,276,'O'),(276,279,'K'),(279,283,'B'),(283,287,'L'),(287,290,'K'),
 (290,297,'O'),(297,303,'B'),(303,310,'K'),(310,313,'B'),(313,322,'O'),(322,324,'K'),(324,333,'O'),
 (333,334,'P'),(334,345,'L'),(345,351,'K'),(351,373,'L'),(373,375,'B'),(375,379,'K'),(379,386,'O'),
 (386,388,'B'),(388,394,'K'),(394,396,'B'),(396,406,'L'),(406,452,'B')]
P4_STREAKS = [(77,88,0,10,'O'),(80,82,0,18,'K'),(80,81,10,18,'R'),(299,310,0,6,'O'),(303,305,0,6,'K'),(297,300,0,24,'B'),
 (438,439,28,38,'V'),(413,414,28,38,'V'),(213,214,165,320,'V'),(189,190,165,320,'V'),(201,202,175,270,'V')]
P4_THIN = [
 (39,45,'O',[2,7,13,18,24,31,38,45,53,59,66,73,78,86,92,99,108,114,122,128,136,143,150,158,166,172,179,186,193,200,208,215,222,231,240,248,257,266,274,282,290,298,306,314]),
 (12,14,'P',[3,9,14,19,24,30,115,119,125,212,221,228,237,246,253,262,270,278,283,290,298,306]),
 (108,113,'K',[18,47,80,97,112,135,160,200,245,282]),
 (99,109,'P',[48,96,100,117]),
 (66,70,'B',[13,160,171,253]),
]
P4_TEX = [
 (443,447,"..K.KKK......K.K.....K.K.K.K.K...KK....K.KK...KKK.K.KK..K..K.K.K..KKKKKK.KK.K.KKKKK.K.KKKKK.KK.K"),
 (436,439,"................KKKKKKKKKKKKKKKKKKKKKKKKKKKKKKKKKKKKKKKKKKKKKKKKKKKKKKKKKKKKKKKKKKKKKKKKKKKKKKKK"),
 (431,434,"KKKKKKKKKKKKKKKKKKKKKKKKKKKKKKKKKKKK.K.KK.KK...K...K.K.KK.K.K....K.........K...K......K....K....."),
 (425,429,"LKK.LLLLKKLKLKKMLMKLKLKLKKLKLKKLKKLKLKLKKLKKKLLLLLLLKLKLKKLKLKKLKLKKKKLKKMKLKKLLKLKLKKLKLKKLKLKLKK"),
 (416,419,"KKKKKKKKKKKKKKKKKKKKKKKKKKKKKKKKKKKKKKKKKKKKKKKKKKKKKKKKKKKKKKKKK.K.K.K.K.KK.KKKKKKKKKKKKKKKKKKK"),
 (410,415,"...............................................KKKKKKKKKKKKKKKKKKKKKKKKKKKKKKKKKKKKKKKKKKKKKKKKKK"),
 (407,409,"..K...K...K.....K.....K.....K...K..K.K....K.K....KK.K.KK.K..K.K.KK.K.K..K..K.KK..K..K.K..K.KK.K.K"),
 (388,394,"KKKKKKKKKKKKKKKKKKKKKKKKKKKKKKKKKKKKKKKKKKKKKKKKKKKKKKKKKKKKKKKKKKKKK.KK.KKKKK.KKKKK.KKKKK.KKK.KK"),
 (375,379,"KKKKKKKKKKKBKBBKKKKKKKKKKKKKKKKKKKKKKKKKKKKKKKKKKKKKKKKKKKKKKKKKKKKKKKKKKKKKKKKKKKKKKKKKKKKKKKKK"),
 (345,351,"KKKKKKKKKKKKKKKKKKKKKKKKKKKKKKKKKKKKKKKKKKKKKKKKKKKKKKKKKKKKKKBKBKKKKKKKKKKKKKBBKKKKKKKKKKKKKKKK"),
 (344,345,"K.K..K..K...K.K...K.....K...K...K.K...K..K..K...K.K.K..K.....K..K.K...K...K...K.K...K..K...K.K..K"),
 (303,310,"KKKMKKKKMKKKMKMKMKKKKMKMKKMKKKMKKKMKKKMKMMKMKKMKKKKKMKKMKKKKMKKMKKMKKKMKKMKMMMMKMKKMKKKMMMKKKMKK"),
 (283,287,"KLMLKLLMLKLLKLLMLKLLKMLMMKLLKLMMLLKLKLLLMMLLKLMLMKLLLLKLLLKMLKLLLKMLLKLMLLKLLLKLLKMLLLKLLLKLLMMLKLL"),
 (259,261,"...K.KKK.KKKK.KKK.K.KK.KKKKK.K.K.KKKKK.KKKK.KK.K.KKKKKKKKKK.KKKK.KKK.K.KKK.KK.K.KKKK.K.KKK.KKK.K"),
 (241,243,"KLKKLKMKMKLKKKLMLLKLKKKLKLMKLKLKKLKLMKKLKMKLKMKKMLKLKKKMLKKKKLMKKLKKLKKLKKLKLMKLKMKKLKKLKLKMKKLKLK"),
 (239,241,"K.K.K.K..K.K.K.K.M.K.K.K.K..K.K.K.K.K.M.K.K.K.K.K.K.K..M.K.K.K.K.K.K.K.K.K.K.K.K.K..K.K.K.K.K.K.K"),
 (222,225,"....K.KKKK.K.K..K............KKKKKKKKKKKKKKKKKKKKKKKKKKKKKKKKKKKKKKKKKKKKKKKKKKKKKKKKKKKKKKKKKKK"),
 (216,218,".......K...K.K.K....................K...K...K.K..K..K...K.K...K..K.K.K...K.K.K.K..K.K....K.K...K."),
 (208,212,"....KKKKKKKKK.KKK.....KK.K.K..KKK.K.KKKKKKKKKKKKKKKKKKKKKKKKKKKKKKKKKKKKKKKKKKKKKKKKKKKKKKKKKKKK"),
 (203,205,"KK.K..........K.K..K.K.KK.K.K..K....K.K...K.K..K.K.K..K.K..K.K.K..K..K.K.K..K.K..KK.K.K.KKK.K..KK"),
 (199,201,".....KK...........KKK.KK.K....K.K.K.K..K.KK.K..K..K.K.KKKK.K.KK.KK.K.KK.KK.K..K.K.KK.K.K.KK.K.K.K"),
 (194,198,"K..K.KKK.KKKKK.KKKKK.KKKKK.KK.KK.KKK.KK.KKKKK.KKKKKKKKKKKKKKKK.KKK.KKKKKKKKK.KKKKKKKKKK.KKK.KKKKK"),
 (190,193,"KK....K.....K..K.K.K.KK.K.K.K.KK.K.KK..K.KK.KK.K.KKK.K.K.KK.KK.KKKK.K.KKK.KK.KKK.KK.KK.K.KK.KKKK."),
 (187,189,"KKKKKK...K.K.K...KKKK..............KK.......K......................K.......K.......K.........K.KK"),
 (183,186,"KKKKKKK.K.....K.K.........K.KK.......KK.........K..K...........K......K......K...........K......."),
 (165,169,"KKKKKK.KKKKKKKKKKKKKKKKKKKKKKKKKKKKKKKKKKKKKKKKKKKKKKKKKKKKKKKK....K.K.....KKKKKKKKKKKKKKKKKKKK"),
 (151,153,"KK.KMMLMKKPPLPPKPPPPLPPKPLPPKPLPPPLPKPPLPPKPLPPKPLPPPKPPLPPPPLPKPLPPLPPKPLPPKPLPPPKPLPPKPPLPPKPLPP"),
 (123,127,"KKKKKKKKKKKKKKKKKKKKKKKKKKKKK..KKKKKKKKKKKKKKKKKKKKKKKKKKKKKKKKKKKKKKKKKKKKKKKKKKKKKKKKKKKKKKKKK"),
 (120,123,"...K.KK.KKKK.K..K.K.K.....K.K.KMMKMKMKMKMKMK.K.K.K..K.K..KK.K.........K..K......................"),
 (82,85,"..KKKKKK.KKKKK.KKKKKKKKKK.K.KKKKKKKKKKKKKKKKKKKKKKK.KKKKKKKKKKKKKKKKKKKKKKKKKKKKKKKKKKKKKKKKKKKKK"),
 (75,79,"...........K.........K.KK.KKK.KK.K.K.K.KKKK.KKKK.KK..KKKKKKK.......K....K.K....K.K..K......KKK..K"),
 (59,62,"MMLLMLKLLLLLMLLKLLLLLLLKLLLLLLKLLLLLKLLLLKLLLLLKLLLLKLLLLLMLLLLLLKLLLLMLKLLLKLLLLLKLLLLKLMMLMMLLM"),
 (33,37,"KKKKKKKKKKKKKKKKKKKKKKKKKKKKKKK.KKK.KKKKKKKKK.KK.K.........KKKKK.K.KKKKK.KKKK.KK.KKKKK.KKKK.KKKK"),
 (29,33,"KKKKKKKKKKKMKKKKKKKMLMKKKKKKKK.KKKKKKK.KKKKKKKKMKKKKKKKKKKKKKKKKKKKKKKKKKKKKKKKKKKKKKKKKKKKKKKKK"),
 (17,20,"..........K.KKKKKMMMKK...K........KKKMKKKKKKKKKMMKK.K..............M.K..K.................K......"),
 (14,17,"...K........MMMMMMMMMMM.M.M...M.....MMMMMMMMMMMMMMMMM.MM.P.MMPMMMP..............................."),
]
P_BANDS = [P1_BANDS, P2_BANDS, P3_BANDS, P4_BANDS]
P_TEX = [P1_TEX, P2_TEX, P3_TEX, P4_TEX]
P_STREAKS = [P1_STREAKS, P2_STREAKS, P3_STREAKS, P4_STREAKS]
P_THIN = [P1_THIN, P2_THIN, P3_THIN, P4_THIN]
# pixel geometry: left x=0, px per x unit, bottom y=0, px per y unit
GEOM = [(40, 1.553, 553, 1.1), (695.5, 1.573, 554, 1.104),
        (36.5, 1.563, 1131, 1.109), (688.5, 1.606, 1138, 1.124)]
COL0, ROW0 = -4, -2
NCOL, NROW = 328, 455


def figx(p):
    return p / W


def figy(p):
    return 1 - p / H


def build(bands, tex, streaks, thin):
    g = np.full((NROW, NCOL), VALUE_OF['L'])
    for r0, r1, c in bands:
        g[r0 - ROW0:r1 - ROW0, :] = VALUE_OF[c]
    for r0, r1, pat in tex:
        step = 320 / len(pat)
        for i, c in enumerate(pat):
            if c == '.':
                continue
            a = int(round(i * step)) - COL0
            b = int(round((i + 1) * step)) - COL0
            if i == 0:
                a = 0
            if i == len(pat) - 1:
                b = NCOL
            g[r0 - ROW0:r1 - ROW0, a:b] = VALUE_OF[c]
    for r0, r1, c0, c1, c in streaks:
        g[r0 - ROW0:r1 - ROW0, c0 - COL0:c1 - COL0] = VALUE_OF[c]
    for r0, r1, c, cols in thin:
        for x in cols:
            g[r0 - ROW0:r1 - ROW0, x - COL0] = VALUE_OF[c]
    return g


fig = plt.figure(figsize=(W / 100, H / 100), dpi=100)
cmap = LinearSegmentedColormap.from_list('gp', [(v / 6, c) for v, c in zip(CMAP_VALUES, CMAP_COLORS)], N=512)
norm = Normalize(0, 6)
FRAME_W = 318
FRAME_H = 451
images = []
for bands, tex, streaks, thin, geo in zip(P_BANDS, P_TEX, P_STREAKS, P_THIN, GEOM):
    x0, sx, y0, sy = geo
    right = x0 + FRAME_W * sx
    top = y0 - FRAME_H * sy
    ax = fig.add_axes([figx(x0), figy(y0 + 1), (right - x0) / W, (y0 + 1 - top) / H])
    im = ax.imshow(build(bands, tex, streaks, thin), origin='lower', aspect='auto', cmap=cmap, norm=norm,
                   extent=(-2.5, -2.5 + 324, ROW0, ROW0 + NROW),
                   interpolation='hanning', interpolation_stage='rgba', zorder=1)
    im.set_clip_on(False)
    images.append(im)
    ax.set_xlim(0, FRAME_W)
    ax.set_ylim(-1 / sy, FRAME_H)
    ax.set_xticks(X_TICKS)
    ax.set_yticks(Y_TICKS)
    ax.tick_params(length=0, labelsize=8.4, labelcolor='#454545')
    ax.tick_params(axis='x', pad=5.6)
    ax.tick_params(axis='y', pad=3.4)
    for s in ax.spines.values():
        s.set_color('#2a1a10')
        s.set_linewidth(1.0)
    ax.spines['top'].set_visible(False)
    ax.spines['bottom'].set_visible(False)

for (cx, cy), t in zip([(277, 26), (953, 26), (268, 599), (945, 600)], TITLES):
    fig.text(figx(cx), figy(cy), t, ha='center', va='center', fontsize=16.8, fontweight='bold', color='#0c0c0c')

# colour bars
for (l, r, t, b) in [(1212, 1237, 57, 554), (1214, 1239, 632, 1138)]:
    cax = fig.add_axes([figx(l), figy(b), (r - l) / W, (b - t) / H])
    cb = fig.colorbar(images[0], cax=cax, ticks=CBAR_TICKS)
    cax.tick_params(direction='in', length=5, width=0.9, left=True, right=True, color='#202020',
                    labelsize=8.4, labelcolor='#454545', pad=4)
    cb.outline.set_edgecolor('#303030')
    cb.outline.set_linewidth(1.0)

TEAL, GREEN = '#2f7090', '#3f8f40'
BRACES = [
 (59, 97, 541, 577, TEAL), (58, 96, 671, 628, TEAL), (210, 236, 541, 576, GREEN), (211, 235, 668, 638, GREEN),
 (314, 352, 541, 582, TEAL), (313, 350, 670, 639, TEAL), (459, 482, 546, 578, GREEN), (460, 483, 672, 640, GREEN),
 (633, 671, 541, 577, TEAL), (633, 671, 671, 639, TEAL), (784, 808, 541, 576, GREEN), (785, 808, 672, 638, GREEN),
 (888, 926, 541, 582, TEAL), (887, 924, 670, 639, TEAL), (1034, 1058, 546, 578, GREEN), (1033, 1057, 672, 638, GREEN)]
for yt, yb, xa, xt, col in BRACES:
    d = 1 if xt > xa else -1
    span = abs(xt - xa)
    xm = xa + d * span * 0.42
    xn = xa + d * span * 0.62
    ym = (yt + yb) / 2
    pts = [(xa, yt), (xm, yt), (xm, yt + 7), (xm, ym - 5), (xm, ym), (xn, ym), (xt, ym),
           (xn, ym), (xm, ym), (xm, ym + 5), (xm, yb - 7), (xm, yb), (xa, yb)]
    codes = [Path.MOVETO, Path.CURVE3, Path.CURVE3, Path.LINETO, Path.CURVE3, Path.CURVE3, Path.LINETO,
             Path.LINETO, Path.CURVE3, Path.CURVE3, Path.LINETO, Path.CURVE3, Path.CURVE3]
    p = Path([(figx(x), figy(y)) for x, y in pts], codes)
    fig.add_artist(PathPatch(p, fc='none', ec=col, lw=1.6, transform=fig.transFigure, capstyle='round'))

for cx, cy, t in [(609, 79, 'CTT'), (608, 225, 'LID'), (605, 334, 'CTT'), (612, 473, 'LID'),
                  (609, 654, 'CTT'), (608, 799, 'LID'), (605, 908, 'CTT'), (612, 1047, 'LID')]:
    fig.text(figx(cx), figy(cy), t, ha='center', va='center', fontsize=15.5, fontweight='bold', color='#0c0c0c')

fig.savefig('out.png', dpi=100)
